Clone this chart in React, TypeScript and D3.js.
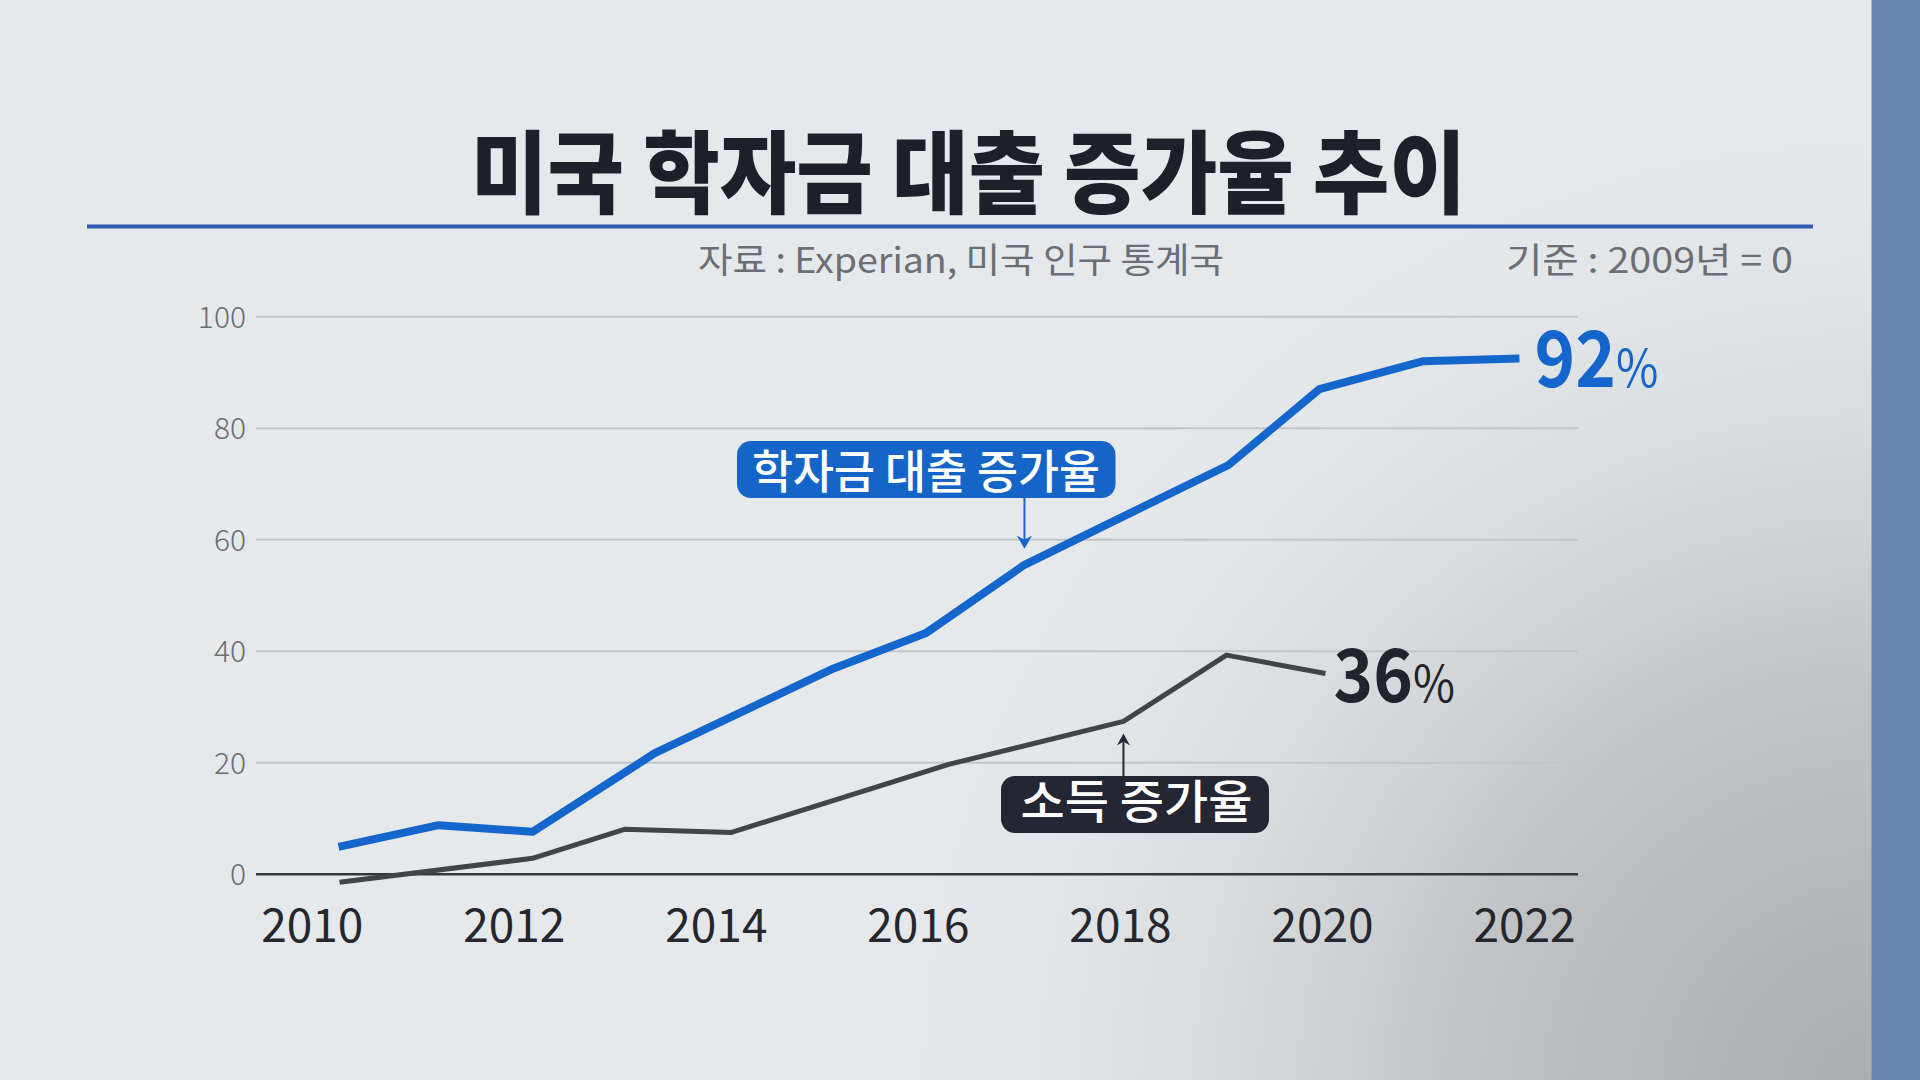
import React from 'react';
import { scaleLinear, line } from 'd3';

// 학자금 대출 증가율 (positions, fractional years)
const loanYears = [2010.26, 2011.25, 2012.18, 2013.39, 2015.16, 2016.07, 2017.05, 2019.07, 2019.97, 2020.99, 2021.95];
const loanValues = [4.9, 8.8, 7.6, 21.7, 36.9, 43.2, 55.5, 73.4, 87.0, 92.0, 92.5];

// 소득 증가율
const incomeYears = [2010.27, 2012.18, 2013.09, 2014.15, 2016.3, 2018.03, 2019.05, 2020.03];
const incomeValues = [-1.45, 2.85, 8.05, 7.5, 19.7, 27.4, 39.3, 36.0];

const yTicks = [0, 20, 40, 60, 80, 100];
const xTicks = [2010, 2012, 2014, 2016, 2018, 2020, 2022];

const title = '미국 학자금 대출 증가율 추이';
const sourceText = '자료 : Experian, 미국 인구 통계국';
const baseText = '기준 : 2009년 = 0';
const loanLabel = '학자금 대출 증가율';
const incomeLabel = '소득 증가율';
const loanEnd = '92';
const incomeEnd = '36';

const W = 1920;
const H = 1080;
const FONT = '"Noto Sans CJK KR", "Noto Sans", sans-serif';

const dims = {
    plotLeft: 256,
    plotRight: 1578,
    yTop: 316.7,
    yZero: 874.2,
    xFirst: 312.3,
    xLast: 1524.5,
};

const App: React.FC = () => {
    const x = scaleLinear().domain([2010, 2022]).range([dims.xFirst, dims.xLast]);
    const y = scaleLinear().domain([0, 100]).range([dims.yZero, dims.yTop]);

    const lineGen = line<[number, number]>()
        .x(d => x(d[0]))
        .y(d => y(d[1]));

    const loanPts: [number, number][] = loanYears.map((yr, i) => [yr, loanValues[i]]);
    const incomePts: [number, number][] = incomeYears.map((yr, i) => [yr, incomeValues[i]]);

    const loanLast = loanPts[loanPts.length - 1];
    const incomeLast = incomePts[incomePts.length - 1];

    // end label positions
    const le = { x: x(loanLast[0]) + 15, y: y(loanLast[1]) + 28 };
    const ie = { x: x(incomeLast[0]) + 8, y: y(incomeLast[1]) + 28 };

    // callout anchors
    const loanAnchor = loanPts[6];
    const incomeAnchor = incomePts[5];
    const la = { x: x(loanAnchor[0]), y: y(loanAnchor[1]) };
    const ia = { x: x(incomeAnchor[0]), y: y(incomeAnchor[1]) };

    return (
        <svg width={W} height={H} viewBox={`0 0 ${W} ${H}`}
            style={{ position: 'absolute', left: 0, top: 0, display: 'block' }}>
            <defs>
                <radialGradient id="shade" cx="1880" cy="1100" r="1050" gradientUnits="userSpaceOnUse">
                    <stop offset="0" stopColor="#a9adb0" />
                    <stop offset="0.4" stopColor="#c1c4c7" />
                    <stop offset="1" stopColor="#e6e9ec" stopOpacity="0" />
                </radialGradient>
            </defs>
            <rect x={0} y={0} width={W} height={H} fill="#e6e9ec" />
            <rect x={0} y={0} width={W} height={H} fill="url(#shade)" />
            <rect x={1871.5} y={0} width={W - 1871.5} height={H} fill="#6b86b3" />

            {/* title */}
            <text x={968.5} y={206} textAnchor="middle" fontFamily={FONT} fontWeight={900}
                fontSize={90} fill="#1e1f29" textLength={995} lengthAdjust="spacingAndGlyphs">{title}</text>
            <rect x={87} y={224.5} width={1726} height={4} fill="#2e5fb2" />
            <text x={961} y={273} textAnchor="middle" fontFamily={FONT} fontSize={35}
                fill="#6b6e74" textLength={526} lengthAdjust="spacingAndGlyphs">{sourceText}</text>
            <text x={1793} y={273} textAnchor="end" fontFamily={FONT} fontSize={35}
                fill="#6b6e74" textLength={287} lengthAdjust="spacingAndGlyphs">{baseText}</text>

            {/* grid */}
            {yTicks.map(t => (
                <g key={t}>
                    <line x1={dims.plotLeft} x2={dims.plotRight} y1={y(t)} y2={y(t)}
                        stroke={t === 0 ? '#35363b' : '#c3c5c8'} strokeWidth={t === 0 ? 2.5 : 2} />
                    <text x={246} y={y(t)} dy="0.36em" textAnchor="end" fontFamily={FONT}
                        fontWeight={300} fontSize={30} fill="#6a6c71">{t}</text>
                </g>
            ))}
            {xTicks.map(t => (
                <text key={t} x={x(t)} y={942} textAnchor="middle" fontFamily={FONT}
                    fontSize={46} fill="#25262e">{t}</text>
            ))}

            {/* series */}
            <path d={lineGen(incomePts) || ''} fill="none" stroke="#434448" strokeWidth={5}
                strokeLinejoin="round" />
            <path d={lineGen(loanPts) || ''} fill="none" stroke="#1466cc" strokeWidth={8}
                strokeLinejoin="round" />

            {/* end labels */}
            <text transform={`translate(${le.x},${le.y}) scale(0.885,1)`} fontFamily={FONT} fill="#1466cc">
                <tspan fontSize={78} fontWeight={700}>{loanEnd}</tspan>
                <tspan fontSize={52} fontWeight={400}>%</tspan>
            </text>
            <text transform={`translate(${ie.x},${ie.y}) scale(0.91,1)`} fontFamily={FONT} fill="#23232e">
                <tspan fontSize={74} fontWeight={700}>{incomeEnd}</tspan>
                <tspan fontSize={50} fontWeight={400}>%</tspan>
            </text>

            {/* loan callout */}
            <rect x={737} y={441} width={378.5} height={57} rx={14} fill="#1565c8" />
            <text x={926} y={488} textAnchor="middle" fontFamily={FONT} fontSize={46} fontWeight={500}
                fill="#ffffff" textLength={348} lengthAdjust="spacingAndGlyphs">{loanLabel}</text>
            <line x1={la.x} x2={la.x} y1={498} y2={la.y - 24} stroke="#1565c8" strokeWidth={2} />
            <path d={`M${la.x - 7.5},${la.y - 29} L${la.x},${la.y - 16} L${la.x + 7.5},${la.y - 29} L${la.x},${la.y - 25} Z`}
                fill="#1565c8" />

            {/* income callout */}
            <rect x={1001} y={776} width={268} height={57} rx={14} fill="#242633" />
            <text x={1136.5} y={818} textAnchor="middle" fontFamily={FONT} fontSize={46} fontWeight={500}
                fill="#ffffff" textLength={232} lengthAdjust="spacingAndGlyphs">{incomeLabel}</text>
            <line x1={ia.x} x2={ia.x} y1={776} y2={ia.y + 20} stroke="#242633" strokeWidth={2} />
            <path d={`M${ia.x - 6.5},${ia.y + 24} L${ia.x},${ia.y + 12} L${ia.x + 6.5},${ia.y + 24} L${ia.x},${ia.y + 20} Z`}
                fill="#242633" />
        </svg>
    );
};

export default App;
